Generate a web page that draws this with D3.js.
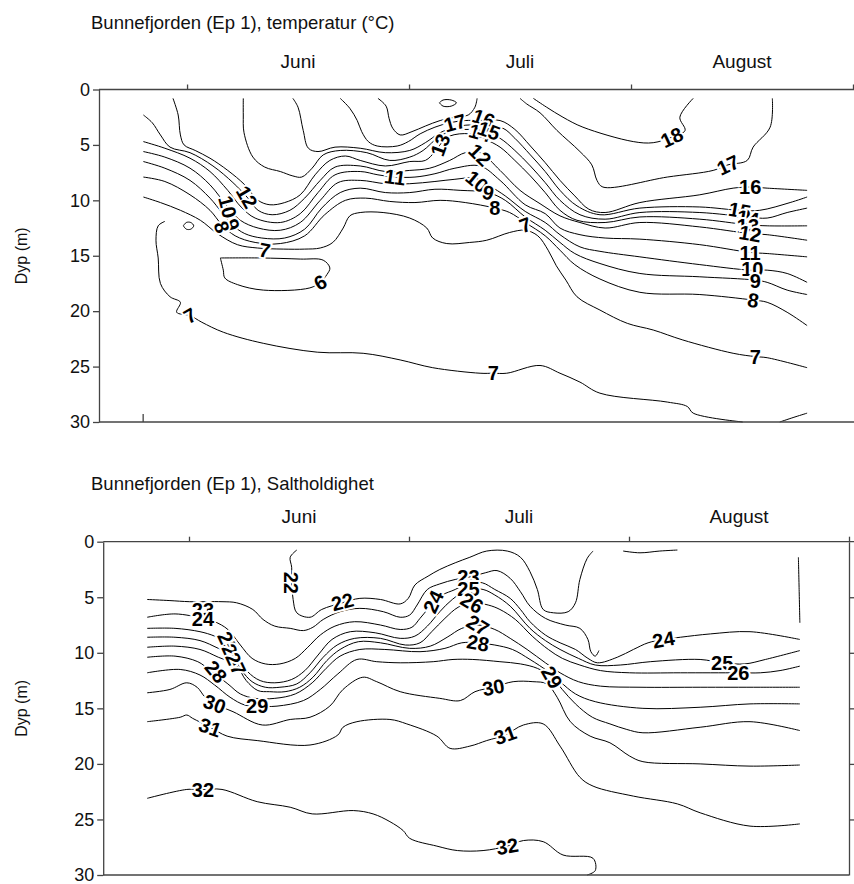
<!DOCTYPE html>
<html><head><meta charset="utf-8">
<script src="https://cdn.jsdelivr.net/npm/d3@7"></script>
<style>
body{margin:0;background:#fff;}
svg{display:block;font-family:"Liberation Sans",Arial,Helvetica,sans-serif;}
</style></head><body>
<svg id="c" width="854" height="884"></svg>
<script>
// ---------- shared axis data ----------
const monthNames = ["Juni", "Juli", "August"];
const monthMid = [15, 45, 75];          // days from 1 June
const monthBounds = [0, 30, 60, 90];    // days from 1 June
const depthTicks = [0, 5, 10, 15, 20, 25, 30];
const firstStation = -6;                // first sampling day (days from 1 June)

// ---------- temperature contours: [day from 1 June, depth m] ----------
const t18 = [[46.8,0.8],[48.6,1.6],[50.8,2.5],[53.5,3.4],[60.3,4.7],[63.0,4.8],[65.5,4.3],[67.3,3.7],[66.6,2.5],[68.4,0.8]];
const t18b = [[34.1,1.2],[34.6,0.95],[35.7,0.95],[36.4,1.2],[35.7,1.5],[34.6,1.5],[34.1,1.2]];
const t17a = [[25.8,0.8],[26.9,1.5],[27.3,2.6],[27.8,3.5],[28.8,4.1],[30.4,3.8],[32.2,3.3],[34.2,2.8],[36.2,2.5],[38.0,2.3],[38.9,1.6],[39.2,0.8]];
const t17b = [[45.0,0.8],[45.9,1.3],[47.7,2.1],[50.0,3.7],[53.1,5.6],[54.7,6.8],[55.4,8.2],[56.2,8.8],[64.9,7.9],[71.1,7.3],[73.1,6.8],[75.7,6.4],[76.5,5.2],[78.8,3.4],[79.1,0.8]];
const t16 = [[20.7,0.8],[22.0,1.7],[23.0,2.8],[23.6,3.8],[24.5,4.7],[25.7,5.1],[28.4,5.1],[29.9,4.7],[31.5,4.0],[33.5,3.4],[35.5,3.0],[37.6,2.8],[39.3,2.8],[42.3,2.8],[44.3,3.6],[46.4,5.1],[48.4,6.6],[50.4,8.2],[52.4,9.6],[54.3,10.8],[56.5,11.1],[61.2,10.2],[69.3,9.5],[73.8,8.9],[76.1,8.8],[78.4,8.9],[83.8,9.1]];
const t15 = [[14.3,0.8],[15.0,1.6],[15.7,3.7],[16.4,5.3],[17.7,5.6],[20.0,5.2],[23.4,5.3],[26.8,5.7],[30.1,5.5],[32.2,4.8],[34.2,3.9],[36.2,3.4],[38.2,3.2],[40.9,3.4],[42.7,3.5],[44.3,4.4],[46.4,5.9],[48.4,7.4],[50.4,9.1],[52.7,10.5],[55.8,11.3],[61.2,10.7],[69.3,10.6],[74.7,10.9],[77.4,10.9],[81.5,10.2],[83.8,9.7]];
const t14 = [[7.6,0.8],[7.6,2.3],[7.7,3.9],[8.9,6.1],[10.5,7.0],[12.6,7.4],[14.3,7.8],[15.5,7.9],[16.9,7.1],[18.4,5.9],[20.7,5.5],[24.3,5.7],[27.4,6.4],[30.1,6.1],[31.9,5.5],[33.8,4.4],[35.5,3.8],[38.2,3.6],[40.3,3.8],[42.3,4.4],[44.3,5.5],[46.4,6.9],[48.4,8.4],[50.4,10.0],[53.1,11.3],[56.5,11.7],[61.2,11.1],[69.3,11.1],[75.8,11.5],[78.4,11.6],[81.1,11.1],[83.8,10.7]];
const t13 = [[-1.9,0.8],[-1.2,2.3],[-0.9,4.1],[-0.4,5.0],[1.1,5.5],[3.1,6.2],[5.5,7.3],[7.8,8.6],[9.6,10.0],[11.2,10.4],[13.2,10.2],[15.3,9.5],[17.3,7.7],[19.3,6.4],[21.4,6.0],[23.4,6.4],[26.8,6.9],[30.1,6.5],[32.2,6.4],[33.5,5.6],[34.4,4.8],[35.5,4.2],[38.2,4.0],[40.3,4.5],[42.3,5.2],[44.3,6.4],[46.4,7.8],[48.4,9.3],[50.4,10.9],[52.7,11.8],[56.5,12.0],[61.2,11.5],[69.3,11.7],[75.8,12.2],[78.4,12.3],[83.8,12.3]];
const t12 = [[-5.9,2.3],[-4.7,3.0],[-3.6,4.1],[-2.3,5.2],[0.4,5.7],[3.5,6.9],[6.2,8.4],[8.1,9.7],[9.6,10.9],[11.5,11.3],[13.9,10.9],[15.9,9.8],[18.0,8.2],[20.0,7.0],[23.4,6.9],[26.8,7.4],[30.1,7.3],[32.8,7.1],[35.5,6.4],[37.6,5.7],[39.6,5.7],[42.3,7.3],[45.0,9.1],[47.7,10.3],[50.4,11.4],[53.1,12.0],[56.5,12.5],[61.2,12.0],[69.3,12.4],[76.1,13.0],[78.4,13.1],[83.8,13.6]];
const t11 = [[-5.9,4.7],[-3.0,5.3],[0.4,6.2],[3.1,7.4],[5.5,9.1],[7.3,10.6],[9.2,11.6],[12.6,12.0],[15.3,11.2],[17.7,9.3],[20.0,7.7],[23.4,7.4],[25.8,7.7],[28.1,7.9],[30.8,7.9],[33.5,7.6],[36.2,7.1],[39.6,6.9],[42.3,8.2],[45.7,10.4],[48.4,11.2],[50.4,12.5],[53.1,13.1],[56.5,13.4],[61.2,13.5],[69.3,14.0],[76.1,14.7],[78.4,14.8],[83.8,15.1]];
const t10 = [[-5.9,5.6],[-3.0,6.1],[0.4,7.1],[3.1,8.6],[5.5,10.6],[7.2,11.8],[9.6,12.5],[12.6,12.7],[15.3,12.0],[18.0,10.0],[20.4,8.4],[23.4,8.2],[26.8,8.5],[30.1,8.5],[33.5,8.3],[36.2,8.1],[38.9,8.0],[40.9,8.7],[43.0,9.6],[45.7,11.0],[48.4,12.0],[50.4,13.1],[53.1,14.2],[55.8,14.6],[61.2,15.1],[69.3,15.8],[76.1,16.3],[78.4,16.3],[81.1,16.6],[83.8,17.4]];
const t9 = [[-5.9,6.5],[-3.0,7.1],[0.4,8.2],[3.1,9.8],[4.7,11.1],[6.1,12.2],[7.8,13.0],[10.1,13.4],[13.2,13.4],[15.9,12.6],[18.2,10.7],[20.7,9.3],[23.4,8.9],[26.8,9.3],[30.1,9.3],[33.5,9.0],[36.9,9.1],[40.7,9.3],[43.0,10.0],[45.7,11.5],[48.4,12.7],[50.4,13.8],[52.4,14.8],[55.8,15.7],[61.2,16.6],[69.3,16.9],[76.8,17.2],[78.4,17.4],[81.1,18.1],[83.8,18.5]];
const t8 = [[-5.9,7.9],[-3.0,8.3],[0.4,9.5],[3.1,10.9],[4.7,12.2],[6.5,13.2],[9.2,13.8],[12.6,13.9],[15.9,13.2],[18.6,11.3],[21.4,10.0],[24.1,9.8],[27.4,10.1],[30.8,10.2],[34.2,10.0],[37.6,10.2],[41.6,10.7],[43.6,11.1],[45.7,12.0],[48.4,13.2],[50.4,14.5],[52.4,15.8],[55.8,17.1],[61.2,18.3],[69.3,18.5],[76.5,19.0],[78.4,19.2],[81.1,20.1],[83.8,21.3]];
const t8b = [[-0.5,12.3],[-0.1,12.0],[0.5,12.0],[0.9,12.3],[0.5,12.6],[-0.1,12.6],[-0.5,12.3]];
const t7a = [[-5.9,9.7],[-3.6,10.2],[-0.9,10.9],[1.8,11.8],[4.1,13.0],[6.8,14.0],[9.5,14.3],[13.0,14.4],[15.9,14.4],[18.0,14.3],[19.7,13.8],[21.1,12.5],[22.0,11.4],[23.4,11.1],[26.5,11.1],[30.1,11.6],[32.4,12.5],[33.2,13.4],[35.1,13.9],[38.2,13.8],[40.5,13.6],[43.6,12.9],[45.7,12.7],[47.4,13.2],[48.8,14.5],[49.9,15.9],[51.2,17.2],[52.7,18.7],[55.8,19.9],[59.5,21.1],[63.0,21.7],[67.0,22.6],[73.8,23.8],[76.8,24.1],[78.4,24.2],[83.8,25.1]];
const t7b = [[-3.0,11.9],[-3.9,12.3],[-4.2,13.6],[-3.9,15.2],[-3.6,17.5],[-2.3,18.7],[-0.9,19.2],[-1.4,20.1],[0.4,20.4],[2.0,21.0],[4.9,21.9],[10.3,22.9],[17.6,23.7],[23.8,23.8],[28.8,24.4],[33.2,25.1],[39.6,25.6],[41.4,25.6],[43.2,25.6],[47.7,24.9],[50.4,25.6],[53.1,26.4],[55.8,27.4],[64.9,28.2],[67.6,28.6],[68.4,29.2],[75.1,30.0]];
const t7c = [[80.1,30.0],[81.9,29.6],[83.8,29.2]];
const t6 = [[4.5,15.2],[9.9,15.2],[15.3,15.3],[18.4,15.4],[19.3,16.1],[18.9,16.7],[18.0,17.4],[16.6,17.9],[10.3,18.1],[6.8,17.6],[5.1,17.0],[4.9,16.3],[4.5,15.2]];

const tempLines = [t18, t18b, t17a, t17b, t16, t15, t14, t13, t12, t11, t10, t9, t8, t8b, t7a, t7b, t7c, t6];

// labels: [text, day, depth, rotation]
const tempLabels = [
  ["17",36.2,3.0,-15],["16",40.1,2.6,20],["14",39.6,3.9,15],["15",40.8,3.7,20],["13",34.2,5.0,-70],
  ["12",8.1,9.7,60],["12",39.6,5.9,45],["11",28.1,7.9,8],
  ["10",5.5,10.6,75],["10",39.2,8.3,40],["9",6.1,12.2,70],["9",40.7,9.3,15],["8",4.7,12.4,70],["8",41.6,10.7,0],
  ["7",10.5,14.5,10],["7",0.4,20.4,-30],["7",41.4,25.6,0],["7",45.7,12.2,-20],["7",76.8,24.1,0],
  ["6",18.0,17.4,-30],["18",65.5,4.3,-25],["17",73.1,6.8,-25],
  ["16",76.1,8.8,0],["15",74.7,10.9,10],["14",75.8,11.6,10],["13",75.8,12.3,0],["12",76.1,13.0,10],
  ["11",76.1,14.7,0],["10",76.4,16.2,0],["9",76.8,17.3,0],["8",76.5,19.0,10]
];

// ---------- salinity contours: [day from 1 June, depth m] ----------
const s22 = [[14.7,0.75],[13.8,1.4],[14.0,2.3],[14.0,3.7],[14.2,5.2],[14.7,6.4],[16.5,6.8],[18.1,6.1],[20.9,5.5],[23.3,5.1],[26.1,5.2],[28.8,5.6],[29.9,5.1],[30.8,3.9],[32.6,3.1],[34.2,2.5],[36.3,1.9],[38.3,1.4],[40.6,0.84],[43.4,0.84],[45.2,1.4],[46.5,2.7],[47.5,4.3],[48.3,6.1],[49.7,6.4],[51.7,6.3],[52.7,5.5],[53.3,3.4],[54.3,1.5],[55.1,0.84]];
const s22b = [[59.2,0.84],[61.5,1.0],[64.2,0.84],[66.6,0.75]];
const s23b = [[83.1,1.4],[83.2,4.3],[83.3,7.3]];
const s23 = [[-5.7,5.2],[-2.6,5.3],[0.1,5.4],[4.5,5.4],[6.5,5.5],[8.7,6.1],[10.1,7.0],[11.7,7.6],[13.8,7.8],[15.6,8.0],[16.9,7.7],[18.3,7.0],[20.6,6.3],[23.3,6.0],[26.5,6.3],[28.8,6.8],[30.1,6.6],[31.1,5.7],[32.5,4.3],[34.2,3.8],[36.3,3.4],[38.1,3.2],[40.4,2.8],[42.0,2.6],[43.8,3.3],[45.2,4.5],[46.5,5.8],[48.6,6.9],[51.3,7.5],[53.3,7.8],[54.4,8.8],[54.8,9.9],[55.4,10.3],[55.9,9.8]];
const s24 = [[-5.7,6.8],[-1.9,6.5],[1.9,6.9],[3.5,7.2],[5.3,7.9],[7.0,9.3],[8.6,10.5],[10.4,11.0],[12.4,11.0],[14.5,10.5],[16.2,9.5],[17.9,8.4],[19.9,7.6],[22.6,7.2],[26.1,7.5],[28.8,7.9],[30.4,7.7],[31.5,6.9],[32.5,6.1],[33.3,5.4],[34.5,4.8],[36.3,4.3],[38.1,3.7],[40.0,3.7],[41.7,4.3],[43.8,5.1],[45.2,6.1],[46.5,7.2],[48.6,8.4],[50.6,9.1],[52.7,9.7],[54.4,10.5],[55.7,10.9],[58.4,10.4],[60.6,9.7],[62.6,9.1],[64.7,8.8],[67.0,8.6],[71.1,8.3],[76.5,8.1],[83.3,8.8]];
const s25 = [[-5.7,7.8],[-1.9,7.8],[1.5,8.1],[3.5,8.5],[5.3,9.1],[6.7,10.4],[8.0,11.7],[9.7,12.5],[11.7,12.7],[14.0,12.4],[15.8,11.6],[17.6,10.2],[19.5,8.8],[22.0,8.1],[25.4,8.2],[28.8,8.7],[30.8,8.5],[32.5,7.6],[34.2,6.3],[35.9,5.2],[38.1,4.3],[40.1,4.3],[41.7,4.8],[43.8,5.8],[46.5,7.8],[48.6,8.9],[50.6,9.7],[53.1,10.5],[55.4,11.1],[58.8,11.1],[62.9,10.8],[69.7,10.6],[72.7,10.9],[75.8,11.0],[78.6,10.6],[83.3,9.8]];
const s26 = [[-5.7,8.6],[-1.9,8.6],[1.5,8.9],[4.0,9.6],[5.9,10.2],[7.2,11.6],[8.6,12.6],[10.4,13.1],[12.4,13.1],[14.7,12.8],[16.5,11.8],[18.3,10.4],[20.2,9.3],[22.6,8.7],[26.1,8.7],[29.5,9.3],[31.5,9.1],[33.1,8.1],[34.9,6.9],[36.7,5.9],[38.6,5.5],[40.8,5.7],[42.4,6.1],[44.5,7.0],[46.8,8.5],[49.0,9.7],[50.9,10.5],[53.3,11.1],[56.1,11.6],[60.1,11.8],[67.0,11.8],[74.9,11.8],[77.9,11.8],[80.6,11.6],[83.3,11.2]];
const s27 = [[-5.7,9.5],[-1.9,9.4],[1.5,9.7],[4.0,10.4],[6.4,11.1],[7.8,12.5],[9.4,13.4],[11.0,13.5],[13.1,13.5],[15.1,13.1],[16.9,12.2],[18.8,10.7],[20.6,9.7],[23.1,9.0],[26.1,9.1],[30.1,9.6],[32.9,9.4],[35.2,8.6],[37.2,7.8],[39.4,7.5],[41.7,7.9],[43.8,8.7],[46.1,9.7],[48.6,10.9],[50.6,11.8],[53.1,12.6],[56.1,13.0],[61.5,13.1],[69.7,13.1],[77.9,13.1],[83.3,13.1]];
const s28 = [[-5.7,10.4],[-1.9,10.3],[1.2,10.8],[2.9,11.6],[5.3,12.8],[7.0,13.7],[9.0,14.1],[11.7,14.1],[14.5,13.7],[16.8,12.7],[18.7,11.4],[20.6,10.3],[23.3,9.7],[26.7,9.7],[31.5,9.9],[34.9,9.6],[37.2,9.1],[39.4,9.1],[41.7,9.3],[44.1,9.7],[46.5,10.6],[49.0,11.7],[50.6,12.6],[52.7,13.7],[55.4,14.4],[61.9,15.0],[69.7,14.9],[76.5,14.6],[83.3,14.6]];
const s29 = [[-5.7,11.8],[-1.2,11.5],[1.5,12.0],[3.5,12.9],[5.6,14.0],[7.6,14.7],[9.3,14.8],[12.0,14.8],[15.6,14.3],[17.9,13.3],[20.3,11.9],[22.9,10.6],[25.6,10.8],[28.8,10.9],[33.3,10.8],[36.0,10.6],[38.7,10.6],[42.4,10.8],[45.2,11.0],[47.5,11.4],[49.5,12.2],[50.9,13.3],[52.7,14.6],[55.0,15.8],[57.4,16.4],[59.7,16.9],[61.9,17.2],[69.7,16.7],[76.5,16.2],[83.3,17.0]];
const s30 = [[-5.7,13.6],[-2.6,13.3],[-0.3,12.7],[1.1,13.1],[2.2,14.0],[3.5,14.6],[6.0,15.3],[10.0,16.5],[13.8,16.0],[16.5,15.8],[19.2,14.8],[21.0,13.3],[23.7,12.2],[25.6,12.6],[28.8,13.5],[34.2,14.1],[37.0,14.3],[39.0,13.5],[41.5,13.1],[44.2,12.6],[46.9,12.6],[48.8,12.8],[50.2,14.0],[52.0,16.2],[54.7,17.5],[57.4,18.1],[60.1,19.3],[61.9,19.8],[69.7,20.0],[76.5,20.2],[83.3,20.1]];
const s31 = [[-5.7,16.2],[-1.2,15.8],[-0.3,15.6],[0.5,15.9],[2.9,16.7],[5.2,17.5],[9.3,17.9],[16.5,18.3],[20.3,17.4],[21.0,16.7],[22.9,16.2],[27.4,16.0],[29.7,16.4],[33.8,17.5],[35.6,18.6],[38.3,18.4],[40.6,17.9],[43.1,17.4],[45.6,16.5],[48.3,16.4],[50.6,18.4],[53.3,21.2],[55.1,22.0],[60.6,22.9],[66.6,23.6],[69.7,24.4],[76.5,25.6],[83.3,25.4]];
const s32 = [[-5.7,23.1],[-0.3,22.3],[1.9,22.3],[4.5,22.3],[9.3,23.4],[13.8,23.9],[16.8,24.5],[22.4,24.2],[25.1,24.5],[27.4,25.2],[29.2,26.0],[30.1,26.7],[33.8,27.4],[36.6,27.8],[40.1,27.8],[43.4,27.4],[45.6,26.9],[48.3,27.0],[51.0,28.2],[55.1,28.5],[55.4,29.6],[54.3,30.0]];

const saltLines = [s22, s22b, s23b, s23, s24, s25, s26, s27, s28, s29, s30, s31, s32];

const saltLabels = [
  ["22",13.9,3.7,90],["22",20.9,5.4,-15],["23",1.9,6.1,0],["24",1.9,6.9,0],
  ["25",5.3,9.1,65],["26",5.9,10.2,65],["27",6.4,11.0,65],["28",3.7,11.7,50],
  ["30",3.5,14.6,20],["29",9.3,14.8,0],["31",2.9,16.7,20],["32",1.9,22.3,0],
  ["24",33.3,5.4,-65],["23",38.1,3.2,0],["25",38.1,4.2,0],["26",38.6,5.5,30],["27",39.4,7.5,30],["28",39.4,9.1,10],
  ["29",49.5,12.2,60],["30",41.5,13.1,-10],["31",43.1,17.4,-20],["32",43.4,27.4,-10],
  ["24",64.7,8.8,-10],["25",72.7,10.9,0],["26",74.9,11.8,0]
];

// ---------- drawing ----------
const svg = d3.select("#c");

function panel(opt) {
  const x = d3.scaleLinear().domain(opt.xDomain).range(opt.xRange);
  const y = d3.scaleLinear().domain([0, 30]).range(opt.yRange);
  const g = svg.append("g");
  const axisCol = "#444";

  // title
  g.append("text").attr("x", 91).attr("y", opt.titleY).attr("font-size", 18.5).attr("fill", "#111").text(opt.title);
  // month labels
  g.selectAll("text.m").data(monthNames).join("text").attr("class", "m")
    .attr("x", (d, i) => x(monthMid[i])).attr("y", opt.monthY)
    .attr("text-anchor", "middle").attr("font-size", 19).attr("fill", "#111").text(d => d);

  // contour lines
  const line = d3.line().x(d => x(d[0])).y(d => y(d[1])).curve(d3.curveCatmullRom.alpha(0.5));
  g.append("g").selectAll("path").data(opt.lines).join("path")
    .attr("d", line).attr("fill", "none").attr("stroke", "#000").attr("stroke-width", 1);

  // contour labels with white halo
  g.append("g").selectAll("text").data(opt.labels).join("text")
    .attr("transform", d => `translate(${x(d[1])},${y(d[2])}) rotate(${d[3]})`)
    .attr("text-anchor", "middle").attr("dy", "0.36em")
    .attr("font-size", 20).attr("font-weight", "bold")
    .attr("stroke", "#fff").attr("stroke-width", 4).attr("paint-order", "stroke")
    .attr("fill", "#000").text(d => d[0]);

  // axes
  const top = g.append("g").attr("transform", `translate(0,${opt.yRange[0]})`)
    .call(d3.axisTop(x).tickValues(monthBounds).tickSize(5).tickSizeOuter(0).tickFormat(""));
  top.select(".domain").attr("d", `M${opt.xRange[0]},0H${opt.topEnd}`);
  const left = g.append("g").attr("transform", `translate(${opt.xRange[0]},0)`)
    .call(d3.axisLeft(y).tickValues(depthTicks).tickSize(6).tickPadding(3).tickSizeOuter(0));
  left.selectAll("text").attr("font-size", 18).attr("fill", "#111").attr("font-family", "Liberation Sans, Arial, sans-serif");
  const bottom = g.append("g").attr("transform", `translate(0,${opt.yRange[1]})`)
    .call(d3.axisBottom(x).tickValues(opt.bottomTicks).tickSize(-8).tickSizeOuter(0).tickFormat(""));
  bottom.select(".domain").attr("d", `M${opt.xRange[0]},0H${opt.bottomEnd}`);
  if (opt.rightSpine) {
    g.append("g").attr("transform", `translate(${opt.xRange[1]},0)`)
      .call(d3.axisRight(y).tickValues([5, 10, 15, 20, 25]).tickSize(5).tickSizeOuter(0).tickFormat(""));
  }
  g.selectAll(".domain, .tick line").attr("stroke", axisCol).attr("stroke-width", 1.3);

  // y axis title
  g.append("text").attr("transform", `translate(27,${(opt.yRange[0] + opt.yRange[1]) / 2}) rotate(-90)`)
    .attr("text-anchor", "middle").attr("font-size", 16).attr("fill", "#111").text("Dyp (m)");
}

panel({
  title: "Bunnefjorden (Ep 1), temperatur (°C)", titleY: 29, monthY: 68,
  xDomain: [-11.9, 90], xRange: [99, 853], yRange: [89.5, 422],
  topEnd: 854, bottomEnd: 854, bottomTicks: [firstStation], rightSpine: false,
  lines: tempLines, labels: tempLabels
});
panel({
  title: "Bunnefjorden (Ep 1), Saltholdighet", titleY: 490, monthY: 523,
  xDomain: [-11.7, 90], xRange: [103.2, 849], yRange: [541.7, 875],
  topEnd: 854, bottomEnd: 849, bottomTicks: [], rightSpine: true,
  lines: saltLines, labels: saltLabels
});
</script>
</body></html>
